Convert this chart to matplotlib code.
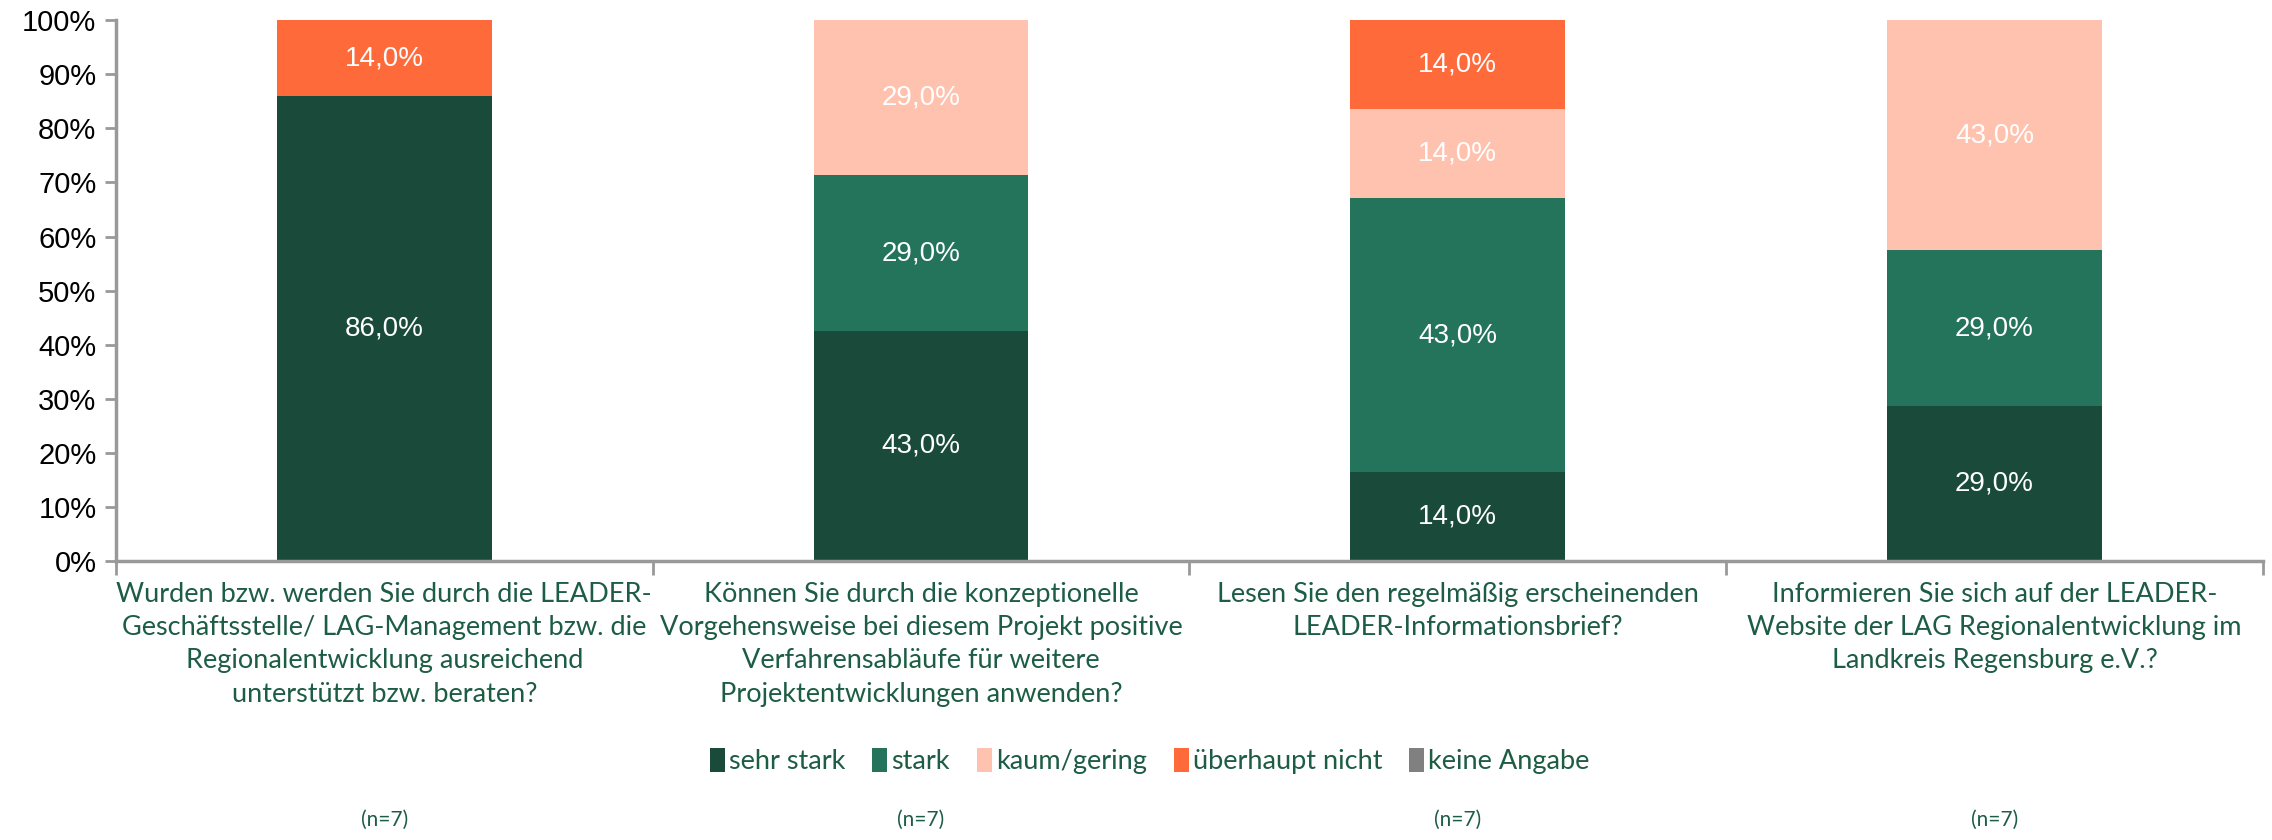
import matplotlib
matplotlib.use("Agg")
import matplotlib.pyplot as plt
from matplotlib.patches import Patch
import numpy as np

categories = [
    "Wurden bzw. werden Sie durch die LEADER-\nGeschäftsstelle/ LAG-Management bzw. die\nRegionalentwicklung ausreichend\nunterstützt bzw. beraten?",
    "Können Sie durch die konzeptionelle\nVorgehensweise bei diesem Projekt positive\nVerfahrensabläufe für weitere\nProjektentwicklungen anwenden?",
    "Lesen Sie den regelmäßig erscheinenden\nLEADER-Informationsbrief?",
    "Informieren Sie sich auf der LEADER-\nWebsite der LAG Regionalentwicklung im\nLandkreis Regensburg e.V.?",
]
series_names = ["sehr stark", "stark", "kaum/gering", "überhaupt nicht", "keine Angabe"]
sehr_stark = [86.0, 43.0, 14.0, 29.0]
stark = [0.0, 29.0, 43.0, 29.0]
kaum_gering = [0.0, 29.0, 14.0, 43.0]
ueberhaupt_nicht = [14.0, 0.0, 14.0, 0.0]
keine_angabe = [0.0, 0.0, 0.0, 0.0]
n_labels = ["(n=7)", "(n=7)", "(n=7)", "(n=7)"]
yticks = [0, 10, 20, 30, 40, 50, 60, 70, 80, 90, 100]

colors = ["#1a4a3a", "#23745a", "#ffc2ae", "#ff6a3a", "#808080"]
green_text = "#1d5c45"
axis_gray = "#999999"

series = [sehr_stark, stark, kaum_gering, ueberhaupt_nicht, keine_angabe]
data = np.array(series, dtype=float)
totals = data.sum(axis=0)
shares = data / totals * 100.0

fig = plt.figure(figsize=(22.72, 8.4), dpi=100)
ax = fig.add_axes([0.051, 0.332, 0.945, 0.644])

x = np.arange(len(categories))
bottom = np.zeros(len(categories))
for i, name in enumerate(series_names):
    ax.bar(x, shares[i], bottom=bottom, width=0.40, color=colors[i], label=name, zorder=2)
    for j in range(len(categories)):
        if data[i, j] > 0:
            ax.text(x[j], bottom[j] + shares[i, j] / 2, f"{data[i, j]:.1f}%".replace(".", ","),
                    ha="center", va="center", color="white", fontsize=20,
                    family="Liberation Sans")
    bottom += shares[i]

ax.set_xlim(-0.5, len(categories) - 0.5)
ax.set_ylim(0, 100)
ax.set_yticks(yticks)
ax.set_yticklabels([f"{v}%" for v in yticks], fontsize=21, family="Liberation Sans", color="black")
ax.tick_params(axis="y", direction="out", length=8, width=2, color=axis_gray, pad=6)

ax.set_xticks(np.arange(-0.5, len(categories) + 0.5, 1.0))
ax.set_xticklabels([])
ax.tick_params(axis="x", direction="out", length=10, width=2, color=axis_gray)

for s in ["top", "right"]:
    ax.spines[s].set_visible(False)
for s in ["left", "bottom"]:
    ax.spines[s].set_color(axis_gray)
    ax.spines[s].set_linewidth(2.5)

for j, lab in enumerate(categories):
    ax.text(x[j], -3.8, lab, ha="center", va="top", fontsize=19.5, color=green_text,
            family="Lato", linespacing=1.42, transform=ax.transData)
    fig.text(ax.transData.transform((x[j], 0))[0] / fig.bbox.width, 0.012, n_labels[j],
             ha="center", va="bottom", fontsize=15, color=green_text, family="Lato")

handles = [Patch(facecolor=colors[i], edgecolor="none") for i in range(len(series_names))]
fig.legend(handles, series_names, loc="center", bbox_to_anchor=(0.506, 0.094), ncol=5,
           frameon=False, prop={"family": "Lato", "size": 19.5}, labelcolor=green_text,
           handlelength=0.55, handleheight=1.0, handletextpad=0.15, columnspacing=1.0)

fig.savefig("out.png", dpi=100)
